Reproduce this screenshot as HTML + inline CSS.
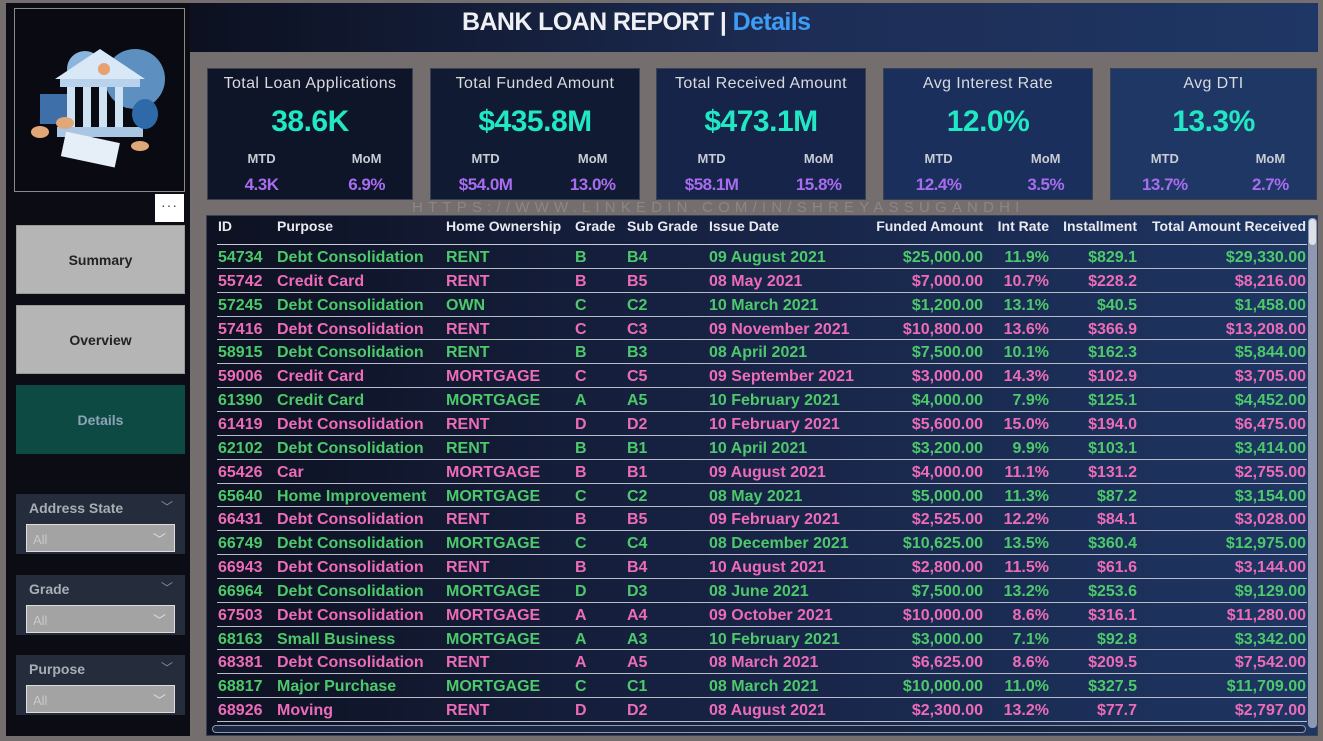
<!DOCTYPE html>
<html><head><meta charset="utf-8">
<style>
*{box-sizing:border-box;margin:0;padding:0}
body{width:1323px;height:741px;overflow:hidden;background:#746e6e;font-family:"Liberation Sans",sans-serif;position:relative}
.abs{position:absolute}
#left{left:6px;top:3px;width:184px;height:733px;background:#0c0d14}
#logo{left:14px;top:8px;width:171px;height:184px;border:1px solid #8a8a8a;background:#0a0b12}
#dots{left:155px;top:194px;width:29px;height:28px;background:#fff;color:#444;font-size:14px;text-align:center;line-height:22px;letter-spacing:1px}
.btn{left:16px;width:169px;height:69px;background:#b5b5b5;color:#222;font-weight:bold;font-size:14px;text-align:center;line-height:69px;border:1px solid #999}
.slicer{left:16px;width:169px;height:60px;background:#252d3d}
.slicer .t{position:absolute;left:13px;top:6px;color:#a9adb5;font-weight:bold;font-size:14px}
.slicer .c{position:absolute;right:12px;top:4px;color:#8a90a0;font-size:12px}
.slicer .dd{position:absolute;left:10px;top:30px;width:149px;height:28px;background:#a3a3a3;border:1px solid #ddd;color:#c8c8c8;font-size:13px;padding:7px 6px}
.slicer .dd span{position:absolute;right:8px;top:4px;color:#ddd;font-size:13px}
#header{left:190px;top:3px;width:1128px;height:49px;background:linear-gradient(to right,#0c1020,#1d2d55 55%,#1f3765)}
#title{left:462px;top:8px;color:#eef0f4;font-weight:bold;font-size:25px;letter-spacing:-0.6px;white-space:nowrap}
#title b{color:#3e9cf5}
.card{top:68px;height:132px;border:1px solid #3a4150}
.card .h{position:absolute;left:0;right:0;top:6px;text-align:center;color:#d8dade;font-size:16px;letter-spacing:0.4px}
.card .v{position:absolute;left:0;right:0;top:36px;text-align:center;color:#20e8c4;font-size:30px;font-weight:bold;letter-spacing:-0.5px}
.card .l{position:absolute;top:82px;color:#c8ccd4;font-size:13px;font-weight:bold;width:80px;text-align:center}
.card .p{position:absolute;top:106px;color:#a86cf0;font-size:17px;font-weight:bold;width:80px;text-align:center;letter-spacing:-0.5px}
#wm{left:412px;top:199px;color:#8c8684;font-size:15px;letter-spacing:5.2px;white-space:nowrap}
#table{left:206px;top:215px;width:1112px;height:521px;background:linear-gradient(to right,#0d1121,#182447 50%,#1e3663);border:1px solid #3a4150}
.cell{position:absolute;font-weight:bold;font-size:16px;white-space:nowrap}
.hd{position:absolute;color:#e8eaf0;font-weight:bold;font-size:14px;white-space:nowrap}
.sep{position:absolute;left:10px;width:1090px;height:1px;background:#b8bcc8}
#vs{left:1308px;top:218px;width:9px;height:510px;background:#8e98b0;border-radius:4px}
#vthumb{left:1309px;top:219px;width:7px;height:26px;background:#dde0e8;border-radius:4px}
#hs{left:212px;top:725px;width:1094px;height:8px;border:1px solid #8e98b0;border-radius:4px;background:#1a2540}
</style></head>
<body>
<div id="left" class="abs"></div>
<div id="logo" class="abs">
<svg width="169" height="182" viewBox="0 0 169 182">
<circle cx="120" cy="70" r="30" fill="#5d8fc0"/>
<circle cx="70" cy="60" r="18" fill="#8ab5dc"/>
<rect x="25" y="85" width="35" height="30" fill="#3f6fa8"/>
<polygon points="40,70 85,40 130,70" fill="#d8e8f6"/>
<rect x="45" y="70" width="80" height="8" fill="#b8d2ec"/>
<rect x="52" y="78" width="8" height="40" fill="#cfe2f3"/><rect x="68" y="78" width="8" height="40" fill="#cfe2f3"/><rect x="84" y="78" width="8" height="40" fill="#cfe2f3"/><rect x="100" y="78" width="8" height="40" fill="#cfe2f3"/>
<rect x="42" y="118" width="86" height="10" fill="#a9c6e4"/>
<circle cx="89" cy="60" r="6" fill="#e8a070"/>
<ellipse cx="130" cy="105" rx="13" ry="15" fill="#2f6aa8"/>
<rect x="48" y="128" width="55" height="25" fill="#e6eef8" transform="rotate(12 75 140)"/>
<ellipse cx="25" cy="123" rx="9" ry="6" fill="#e0a878"/><ellipse cx="50" cy="114" rx="9" ry="6" fill="#e0a878"/>
<ellipse cx="125" cy="137" rx="9" ry="5" fill="#e0a878"/>
</svg></div>
<div id="dots" class="abs">···</div>
<div class="abs btn" style="top:225px">Summary</div>
<div class="abs btn" style="top:305px">Overview</div>
<div class="abs btn" style="top:385px;background:#0e4a44;color:#8fa3b8;border-color:#0e4a44">Details</div>
<div class="abs slicer" style="top:494px"><div class="t">Address State</div><div class="c">﹀</div><div class="dd">All<span>﹀</span></div></div>
<div class="abs slicer" style="top:575px"><div class="t">Grade</div><div class="c">﹀</div><div class="dd">All<span>﹀</span></div></div>
<div class="abs slicer" style="top:655px"><div class="t">Purpose</div><div class="c">﹀</div><div class="dd">All<span>﹀</span></div></div>

<div id="header" class="abs"></div>
<div id="title" class="abs">BANK LOAN REPORT | <b>Details</b></div>

<div id="cards"></div>
<div id="wm" class="abs">HTTPS://WWW.LINKEDIN.COM/IN/SHREYASSUGANDHI</div>
<div id="table" class="abs"></div>
<div id="vs" class="abs"></div>
<div id="vthumb" class="abs"></div>
<div id="hs" class="abs"></div>

<script>
const cardTitles=["Total Loan Applications","Total Funded Amount","Total Received Amount","Avg Interest Rate","Avg DTI"];
const cardValues=["38.6K","$435.8M","$473.1M","12.0%","13.3%"];
const cardMTD=["4.3K","$54.0M","$58.1M","12.4%","13.7%"];
const cardMoM=["6.9%","13.0%","15.8%","3.5%","2.7%"];
const ids=["54734","55742","57245","57416","58915","59006","61390","61419","62102","65426","65640","66431","66749","66943","66964","67503","68163","68381","68817","68926"];
const purposes=["Debt Consolidation","Credit Card","Debt Consolidation","Debt Consolidation","Debt Consolidation","Credit Card","Credit Card","Debt Consolidation","Debt Consolidation","Car","Home Improvement","Debt Consolidation","Debt Consolidation","Debt Consolidation","Debt Consolidation","Debt Consolidation","Small Business","Debt Consolidation","Major Purchase","Moving"];
const ownership=["RENT","RENT","OWN","RENT","RENT","MORTGAGE","MORTGAGE","RENT","RENT","MORTGAGE","MORTGAGE","RENT","MORTGAGE","RENT","MORTGAGE","MORTGAGE","MORTGAGE","RENT","MORTGAGE","RENT"];
const grades=["B","B","C","C","B","C","A","D","B","B","C","B","C","B","D","A","A","A","C","D"];
const subGrades=["B4","B5","C2","C3","B3","C5","A5","D2","B1","B1","C2","B5","C4","B4","D3","A4","A3","A5","C1","D2"];
const issueDates=["09 August 2021","08 May 2021","10 March 2021","09 November 2021","08 April 2021","09 September 2021","10 February 2021","10 February 2021","10 April 2021","09 August 2021","08 May 2021","09 February 2021","08 December 2021","10 August 2021","08 June 2021","09 October 2021","10 February 2021","08 March 2021","08 March 2021","08 August 2021"];
const funded=["$25,000.00","$7,000.00","$1,200.00","$10,800.00","$7,500.00","$3,000.00","$4,000.00","$5,600.00","$3,200.00","$4,000.00","$5,000.00","$2,525.00","$10,625.00","$2,800.00","$7,500.00","$10,000.00","$3,000.00","$6,625.00","$10,000.00","$2,300.00"];
const intRates=["11.9%","10.7%","13.1%","13.6%","10.1%","14.3%","7.9%","15.0%","9.9%","11.1%","11.3%","12.2%","13.5%","11.5%","13.2%","8.6%","7.1%","8.6%","11.0%","13.2%"];
const installments=["$829.1","$228.2","$40.5","$366.9","$162.3","$102.9","$125.1","$194.0","$103.1","$131.2","$87.2","$84.1","$360.4","$61.6","$253.6","$316.1","$92.8","$209.5","$327.5","$77.7"];
const received=["$29,330.00","$8,216.00","$1,458.00","$13,208.00","$5,844.00","$3,705.00","$4,452.00","$6,475.00","$3,414.00","$2,755.00","$3,154.00","$3,028.00","$12,975.00","$3,144.00","$9,129.00","$11,280.00","$3,342.00","$7,542.00","$11,709.00","$2,797.00"];
const headers=["ID","Purpose","Home Ownership","Grade","Sub Grade","Issue Date","Funded Amount","Int Rate","Installment","Total Amount Received"];

const cardX=[207,430,656,883,1110], cardW=[206,210,210,210,207];
const cardBg=["#0f1528","#111a33","#17244a","#1b2f5c","#1f3765"];
const cards=document.getElementById('cards');
cardTitles.forEach((t,i)=>{
  const c=document.createElement('div');
  c.className='abs card';
  
  
  c.style.left=cardX[i]+'px';c.style.width=cardW[i]+'px';c.style.background=cardBg[i];
  const w=cardW[i];
  c.innerHTML='<div class="h">'+t+'</div><div class="v">'+cardValues[i]+'</div>'+
   '<div class="l" style="left:'+(w*0.26-40)+'px">MTD</div><div class="l" style="left:'+(w*0.77-40)+'px">MoM</div>'+
   '<div class="p" style="left:'+(w*0.26-40)+'px">'+cardMTD[i]+'</div><div class="p" style="left:'+(w*0.77-40)+'px">'+cardMoM[i]+'</div>';
  cards.appendChild(c);
});

const table=document.getElementById('table');
const colL=[11,70,239,368,420,502,null,null,null,null];
const colR=[null,null,null,null,null,null,776,842,930,1099];
const hdTop=2;
headers.forEach((h,j)=>{
  const d=document.createElement('div');
  d.className='hd';
  
  
  d.textContent=h;d.style.top=hdTop+'px';
  if(colL[j]!==null)d.style.left=colL[j]+'px';else d.style.right=(1110-colR[j])+'px';
  table.appendChild(d);
});
const rowH=23.85, row0=28;
const cols=[ids,purposes,ownership,grades,subGrades,issueDates,funded,intRates,installments,received];
const hs=document.createElement('div');hs.className='sep';hs.style.top=row0+'px';hs.style.background='#c8ccd6';


table.appendChild(hs);
ids.forEach((id,i)=>{
  const color=i%2===0?'#4cc96a':'#ec6cb8';
  const top=row0+i*rowH;
  cols.forEach((arr,j)=>{
    const d=document.createElement('div');
    d.className='cell';
    
    
    d.textContent=arr[i];d.style.color=color;d.style.top=(top+5)+'px';
    if(colL[j]!==null)d.style.left=colL[j]+'px';else d.style.right=(1110-colR[j])+'px';
    table.appendChild(d);
  });
  const s=document.createElement('div');s.className='sep';s.style.top=(top+rowH)+'px';
  
  
  table.appendChild(s);
});
</script>
</body></html>
